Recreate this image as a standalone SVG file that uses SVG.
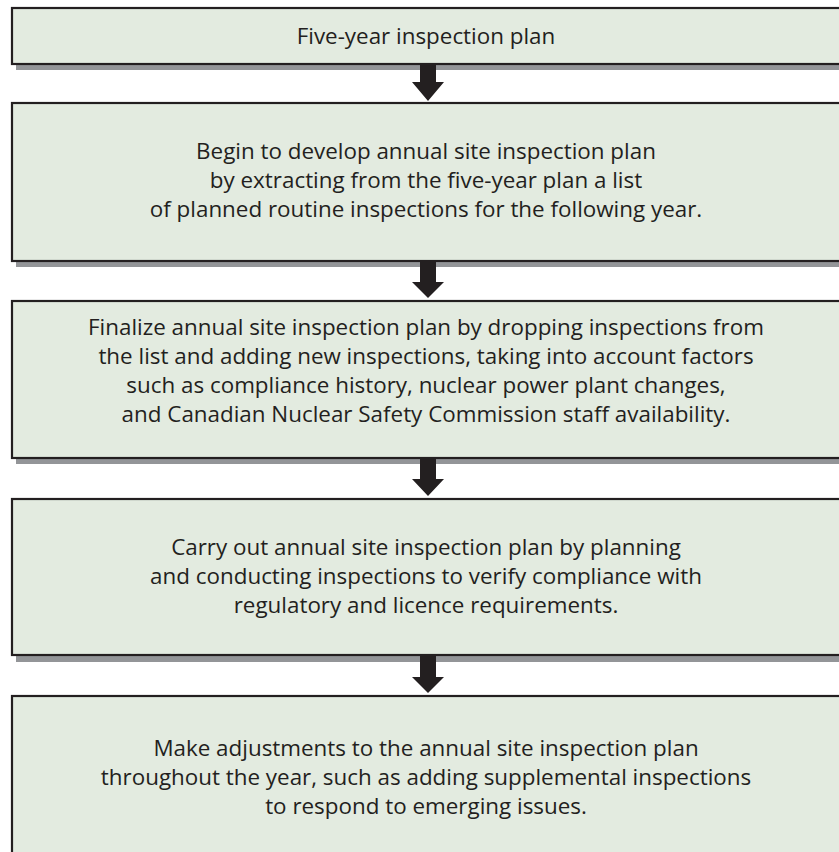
<svg xmlns="http://www.w3.org/2000/svg" width="839" height="852" viewBox="0 0 839 852">
<style>
.shadow{fill:#939598}
.box{fill:#e3ebe0;stroke:#231f20;stroke-width:2.2}
.t{font-family:"Open Sans","Noto Sans",sans-serif;font-size:22.4px;fill:#231f20;text-anchor:middle}
.arrow{fill:#231f20}
</style>
<rect width="839" height="852" fill="#ffffff"/>
<g id="node1">
<rect class="shadow" x="16" y="14" width="840" height="56"/>
<rect class="box" x="12" y="8" width="840" height="56"/>
<text class="t" x="426" y="44">Five-year inspection plan</text>
</g>
<g id="node2">
<rect class="shadow" x="16" y="109" width="840" height="158"/>
<rect class="box" x="12" y="103" width="840" height="158"/>
<text class="t" x="426" y="159">Begin to develop annual site inspection plan</text>
<text class="t" x="426" y="188">by extracting from the five-year plan a list</text>
<text class="t" x="426" y="217">of planned routine inspections for the following year.</text>
</g>
<g id="node3">
<rect class="shadow" x="16" y="307" width="840" height="157"/>
<rect class="box" x="12" y="301" width="840" height="157"/>
<text class="t" x="426" y="335">Finalize annual site inspection plan by dropping inspections from</text>
<text class="t" x="426" y="364">the list and adding new inspections, taking into account factors</text>
<text class="t" x="426" y="393">such as compliance history, nuclear power plant changes,</text>
<text class="t" x="426" y="422">and Canadian Nuclear Safety Commission staff availability.</text>
</g>
<g id="node4">
<rect class="shadow" x="16" y="505" width="840" height="157"/>
<rect class="box" x="12" y="499" width="840" height="156"/>
<text class="t" x="426" y="555">Carry out annual site inspection plan by planning</text>
<text class="t" x="426" y="584">and conducting inspections to verify compliance with</text>
<text class="t" x="426" y="613">regulatory and licence requirements.</text>
</g>
<g id="node5">
<rect class="box" x="12" y="696" width="840" height="170"/>
<text class="t" x="426" y="756">Make adjustments to the annual site inspection plan</text>
<text class="t" x="426" y="785">throughout the year, such as adding supplemental inspections</text>
<text class="t" x="426" y="814">to respond to emerging issues.</text>
</g>
<g id="connectors">
<polygon class="arrow" points="420,65 436,65 436,82 444,82 428,101 412,82 420,82"/>
<polygon class="arrow" points="420,262 436,262 436,282 444,282 428,298 412,282 420,282"/>
<polygon class="arrow" points="420,459 436,459 436,479 444,479 428,496 412,479 420,479"/>
<polygon class="arrow" points="420,656 436,656 436,677 444,677 428,693 412,677 420,677"/>
</g>
</svg>
